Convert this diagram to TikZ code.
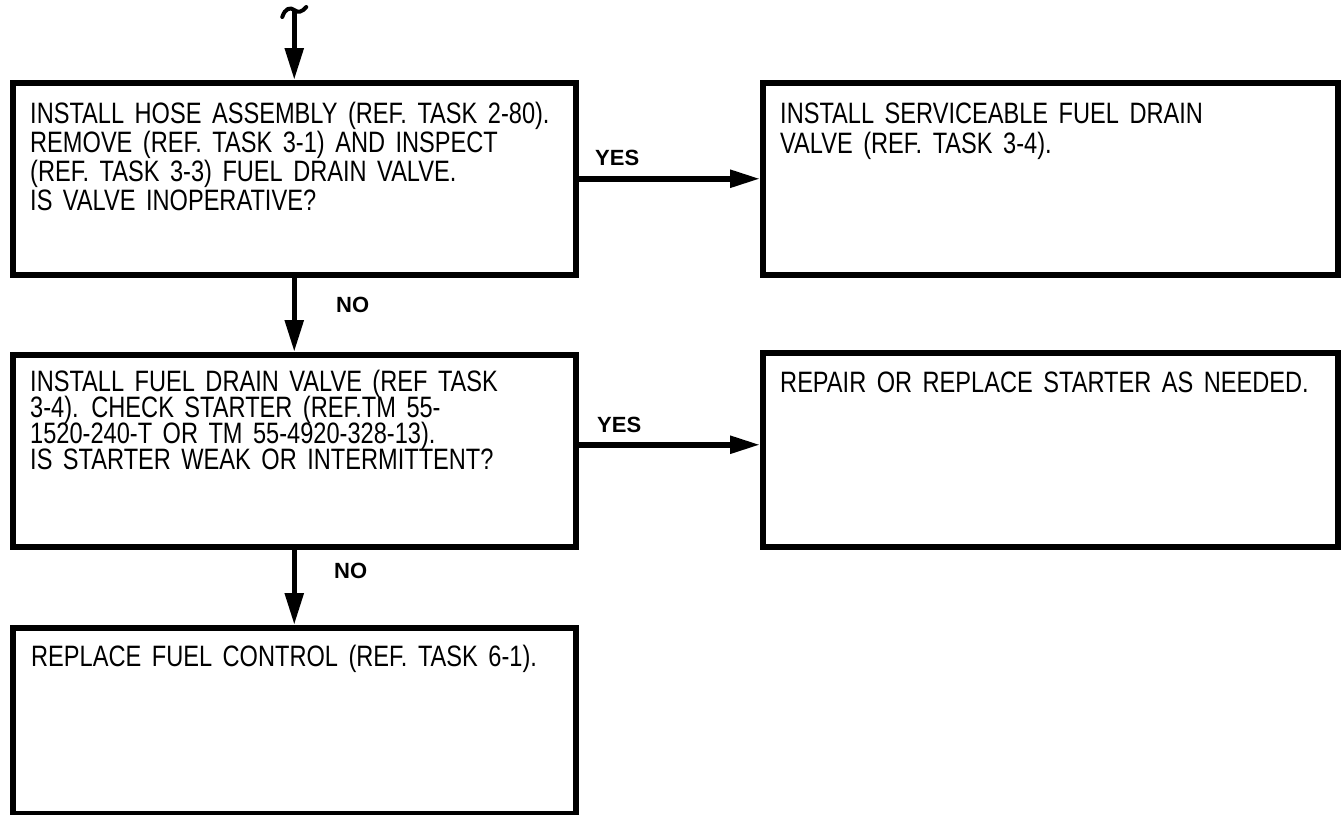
\documentclass[tikz,border=0pt]{standalone}
\usepackage{fontspec}
\setmainfont{Liberation Sans}[FakeStretch=0.8,WordSpace=1.6]
\newfontfamily\lblfont{Liberation Sans}
\usetikzlibrary{arrows.meta}
\begin{document}
\lineskiplimit=-100pt\relax
\begin{tikzpicture}[x=1pt,y=-1pt,
  box/.style={draw,line width=5.5pt,anchor=north west,inner sep=0pt},
  txt/.style={anchor=north west,inner sep=0pt,align=left,
    font=\fontsize{29.5}{29}\selectfont},
  txtB/.style={txt,font=\fontsize{29.5}{26}\selectfont},
  lbl/.style={anchor=west,inner sep=0pt,font=\lblfont\bfseries\fontsize{22}{22}\selectfont},
  flowv/.style={line width=5.5pt,-{Triangle[length=32pt,width=18pt]}},
  flowh/.style={line width=5.5pt,-{Triangle[length=30pt,width=17pt]}}]
\useasboundingbox (0,0) rectangle (1343,814);
% boxes
\node[box,minimum width=563pt,minimum height=192pt] (b1) at (10,80) {};
\node[box,minimum width=575pt,minimum height=192pt] (b2) at (760,80) {};
\node[box,minimum width=563pt,minimum height=192pt] (b3) at (10,352) {};
\node[box,minimum width=575pt,minimum height=194pt] (b4) at (760,350) {};
\node[box,minimum width=563pt,minimum height=186pt] (b5) at (10,625) {};
% texts
\node[txt] (t1) at (30,101.5) {INSTALL HOSE ASSEMBLY (REF. TASK 2-80).\\REMOVE (REF. TASK 3-1) AND INSPECT\\(REF. TASK 3-3) FUEL DRAIN VALVE.\\IS VALVE INOPERATIVE?};
\node[txt,font=\fontsize{29.5}{30}\selectfont] (t2) at (780,102.5) {INSTALL SERVICEABLE FUEL DRAIN\\VALVE (REF. TASK 3-4).};
\node[txtB] (t3) at (30,369.5) {INSTALL FUEL DRAIN VALVE (REF TASK\\3-4). CHECK STARTER (REF.TM 55-\\1520-240-T OR TM 55-4920-328-13).\\IS STARTER WEAK OR INTERMITTENT?};
\node[txt] (t4) at (780,371.5) {REPAIR OR REPLACE STARTER AS NEEDED.};
\node[txt] (t5) at (31,645) {REPLACE FUEL CONTROL (REF. TASK 6-1).};
% incoming tail
\coordinate (tail) at (b1.north |- 0,10);
\draw[line width=4pt,line cap=round] ([xshift=-12pt,yshift=-7pt]tail) .. controls ([xshift=-9pt,yshift=2pt]tail) and ([xshift=-4pt,yshift=3pt]tail) .. (tail) .. controls ([xshift=4pt,yshift=-3pt]tail) and ([xshift=8pt,yshift=-2pt]tail) .. ([xshift=12pt,yshift=3pt]tail);
\draw[flowv] (tail) -- (b1.north);
% connectors
\draw[flowh] (b1.east) -- (b2.west |- b1.east);
\draw[flowv] (b1.south) -- (b3.north);
\draw[flowh] ([yshift=6pt]b3.east) coordinate (y2s) -- (b4.west |- y2s);
\draw[flowv] (b3.south) -- (b5.north);
% labels
\node[lbl] (y1) at (595,158) {YES};
\node[lbl] (y2) at (597,425) {YES};
\node[lbl] (n1) at (336,305) {NO};
\node[lbl] (n2) at (334,571) {NO};
\end{tikzpicture}
\end{document}
